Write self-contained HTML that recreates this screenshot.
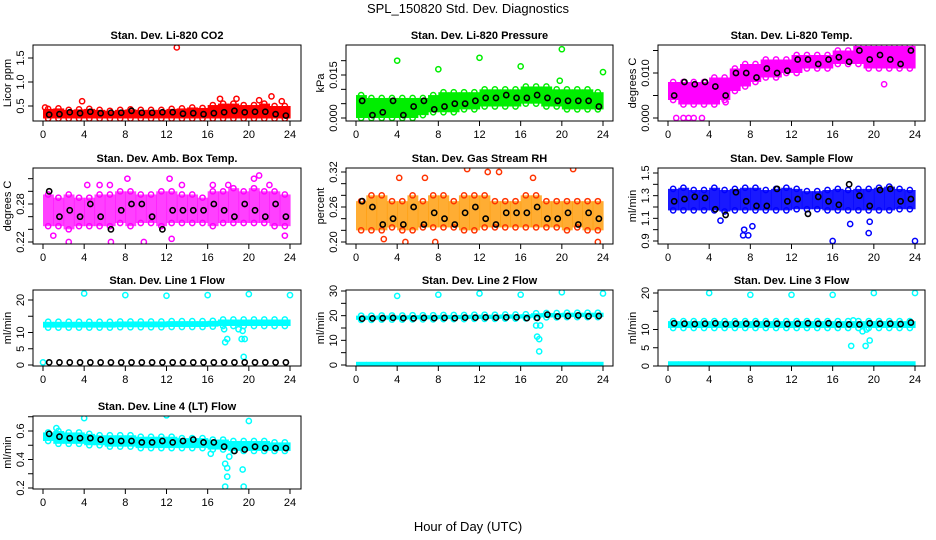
<!DOCTYPE html>
<html><head><meta charset="utf-8"><style>
body{margin:0;background:#fff}
svg{display:block;font-family:"Liberation Sans",sans-serif}
</style></head><body>
<svg id="c" width="936" height="540" viewBox="0 0 936 540">
<text x="468" y="13" text-anchor="middle" font-size="13">SPL_150820  Std. Dev. Diagnostics</text>
<text x="468" y="531" text-anchor="middle" font-size="13">Hour of Day (UTC)</text>
</svg>
<script>
// ---- data (hourly slot bands, black hourly values, outliers) ----
const hours = [0,1,2,3,4,5,6,7,8,9,10,11,12,13,14,15,16,17,18,19,20,21,22,23];
const xTicks = [0,4,8,12,16,20,24];

const co2Lo = [0.24,0.24,0.24,0.24,0.24,0.24,0.24,0.24,0.24,0.24,0.24,0.24,0.24,0.24,0.24,0.24,0.24,0.24,0.24,0.24,0.24,0.24,0.24,0.24];
const co2Hi = [0.44,0.45,0.42,0.43,0.44,0.42,0.40,0.42,0.43,0.42,0.42,0.42,0.44,0.45,0.47,0.46,0.52,0.55,0.55,0.52,0.52,0.55,0.50,0.50];
const co2Blk = [0.32,0.33,0.37,0.35,0.38,0.35,0.36,0.36,0.40,0.36,0.36,0.37,0.37,0.34,0.35,0.33,0.35,0.37,0.40,0.37,0.38,0.38,0.33,0.30];
const co2Out = [[13,1.72],[3.8,0.6],[17.2,0.65],[18.8,0.65],[21,0.62],[22.2,0.7],[23.2,0.6],[0.2,0.47]];

const presLo = [0,0,0,0,0,0,0.001,0.002,0.002,0.002,0.003,0.003,0.004,0.004,0.004,0.004,0.005,0.005,0.004,0.004,0.003,0.003,0.003,0.003];
const presHi = [0.008,0.007,0.007,0.007,0.007,0.007,0.007,0.008,0.009,0.009,0.009,0.009,0.010,0.010,0.010,0.010,0.011,0.011,0.011,0.010,0.010,0.010,0.010,0.009];
const presBlk = [0.006,0.001,0.002,0.006,0.001,0.004,0.006,0.003,0.004,0.005,0.005,0.006,0.007,0.007,0.008,0.007,0.007,0.008,0.007,0.006,0.006,0.006,0.006,0.004];
const presOut = [[4,0.020],[8,0.017],[12,0.021],[16,0.018],[20,0.024],[24,0.016],[19.8,0.013]];

const tempLo = [0.004,0.003,0.003,0.003,0.003,0.004,0.006,0.007,0.008,0.009,0.009,0.010,0.010,0.011,0.011,0.011,0.012,0.012,0.012,0.011,0.011,0.011,0.011,0.011];
const tempHi = [0.008,0.008,0.008,0.008,0.009,0.009,0.011,0.012,0.012,0.013,0.013,0.013,0.014,0.014,0.014,0.014,0.015,0.015,0.016,0.016,0.016,0.016,0.016,0.016];
const tempBlk = [0.005,0.008,0.0075,0.008,0.007,0.005,0.010,0.010,0.009,0.011,0.010,0.0105,0.013,0.013,0.012,0.013,0.0135,0.0125,0.015,0.013,0.014,0.013,0.012,0.015];
const tempOut = [[0.8,0],[1.5,0],[2,0],[2.5,0],[3.3,0],[5.6,0.0035],[21,0.0075]];

const ambLo = [0.245,0.245,0.24,0.245,0.245,0.245,0.245,0.25,0.245,0.25,0.25,0.245,0.25,0.25,0.25,0.25,0.245,0.25,0.25,0.25,0.25,0.25,0.245,0.245];
const ambHi = [0.295,0.29,0.295,0.29,0.29,0.295,0.295,0.30,0.30,0.295,0.295,0.30,0.30,0.295,0.295,0.29,0.30,0.30,0.305,0.30,0.305,0.30,0.30,0.295];
const ambBlk = [0.30,0.26,0.27,0.26,0.28,0.26,0.24,0.27,0.28,0.28,0.26,0.24,0.27,0.27,0.27,0.27,0.28,0.27,0.26,0.28,0.27,0.26,0.28,0.26];
const ambOut = [[1,0.23],[2.5,0.22],[4.3,0.31],[5.5,0.31],[6.5,0.31],[8.2,0.32],[9.8,0.22],[6.6,0.22],[12.5,0.225],[12.3,0.32],[13.5,0.31],[16.5,0.31],[18,0.31],[21,0.325],[20.5,0.32],[23.5,0.23],[22,0.31]];

const rhLo = [0.22,0.22,0.22,0.225,0.22,0.22,0.225,0.225,0.225,0.225,0.22,0.22,0.225,0.225,0.225,0.225,0.225,0.225,0.225,0.225,0.22,0.225,0.22,0.22];
const rhHi = [0.27,0.28,0.28,0.27,0.27,0.28,0.27,0.28,0.28,0.27,0.28,0.28,0.28,0.27,0.27,0.27,0.28,0.28,0.27,0.27,0.27,0.27,0.27,0.27];
const rhBlk = [0.27,0.26,0.23,0.24,0.23,0.26,0.23,0.25,0.24,0.23,0.25,0.26,0.24,0.23,0.25,0.25,0.25,0.26,0.24,0.24,0.25,0.23,0.25,0.24];
const rhOut = [[10.2,0.335],[10.8,0.325],[4.2,0.31],[12.8,0.32],[13.9,0.32],[21.1,0.325],[17.2,0.31],[2.7,0.205],[4.8,0.20],[7.7,0.20],[23.5,0.2],[6.7,0.31]];

const sfLo = [1.17,1.17,1.17,1.17,1.17,1.16,1.17,1.17,1.17,1.17,1.17,1.17,1.18,1.18,1.18,1.17,1.17,1.17,1.17,1.17,1.17,1.17,1.18,1.18];
const sfHi = [1.36,1.37,1.35,1.35,1.37,1.35,1.36,1.37,1.37,1.35,1.36,1.37,1.36,1.34,1.34,1.35,1.36,1.35,1.36,1.36,1.37,1.38,1.36,1.35];
const sfBlk = [1.25,1.27,1.29,1.28,1.18,1.13,1.33,1.25,1.21,1.21,1.36,1.25,1.27,1.14,1.29,1.25,1.22,1.40,1.30,1.21,1.35,1.36,1.25,1.27];
const sfOut = [[7.3,0.95],[7.8,0.95],[8.2,1.03],[7.4,1.0],[9.7,1.57],[16,0.9],[24,0.9],[19.5,0.97],[19.6,1.07],[17.7,1.05],[5.1,1.08]];

const l1Lo = [11.5,11.5,11.5,11.5,11.5,11.5,11.5,11.6,11.6,11.6,11.6,11.6,11.7,11.7,11.7,11.7,11.8,12.0,12.0,12.0,12.0,12.0,12.0,12.0];
const l1Hi = [13.3,13.3,13.3,13.3,13.3,13.3,13.3,13.4,13.4,13.4,13.4,13.4,13.5,13.5,13.5,13.5,13.6,14.0,14.0,14.0,14.0,14.0,14.0,14.0];
const l1Blk = [0.8,0.8,0.8,0.8,0.8,0.8,0.8,0.8,0.8,0.8,0.8,0.8,0.8,0.8,0.8,0.8,0.8,0.8,0.8,0.8,0.8,0.8,0.8,0.8];
const l1Out = [[4,22],[8,21.5],[12,21.3],[16,21.5],[20,21.8],[24,21.5],[17.7,7],[17.9,8],[17.6,11],[19,11],[19.3,8],[19.6,8],[19.4,10.5],[19.5,2.5],[0,0.8]];

const l2Lo = [18.3,18.3,18.4,18.4,18.4,18.5,18.5,18.5,18.6,18.6,18.6,18.7,18.7,18.7,18.8,18.8,18.9,19.2,19.3,19.3,19.4,19.4,19.4,19.4];
const l2Hi = [20.0,20.0,20.1,20.1,20.1,20.2,20.2,20.2,20.3,20.3,20.3,20.4,20.4,20.4,20.5,20.5,20.6,21.0,21.1,21.1,21.2,21.2,21.2,21.2];
const l2Blk = [18.8,18.9,19.0,19.1,19.0,18.9,19.1,19.0,19.1,19.0,19.2,19.2,19.3,19.2,19.3,19.3,19.0,19.1,20.4,19.7,19.9,20.1,19.8,19.9];
const l2ZeroHi = [1.3,1.3,1.3,1.3,1.3,1.3,1.3,1.3,1.3,1.3,1.3,1.3,1.3,1.3,1.3,1.3,1.3,1.3,1.3,1.3,1.3,1.3,1.3,1.3];
const l2Out = [[4,28],[8,28.5],[12,29],[16,28.5],[20,29.5],[24,29],[17.5,16],[17.9,16],[17.6,11.5],[17.8,10.5],[17.8,5.5]];

const l3Lo = [10.4,10.4,10.4,10.4,10.4,10.4,10.4,10.4,10.4,10.4,10.4,10.4,10.4,10.4,10.4,10.4,10.4,10.4,10.4,10.4,10.4,10.4,10.4,10.4];
const l3Hi = [12.3,12.3,12.3,12.3,12.3,12.3,12.3,12.3,12.3,12.3,12.3,12.3,12.3,12.3,12.3,12.3,12.3,12.3,12.3,12.3,12.3,12.3,12.3,12.3];
const l3Blk = [11.7,11.6,11.5,11.6,11.7,11.5,11.6,11.6,11.6,11.6,11.6,11.5,11.6,11.7,11.6,11.7,11.4,11.4,11.4,11.7,11.6,11.6,11.5,11.9];
const l3ZeroHi = [1.3,1.3,1.3,1.3,1.3,1.3,1.3,1.3,1.3,1.3,1.3,1.3,1.3,1.3,1.3,1.3,1.3,1.3,1.3,1.3,1.3,1.3,1.3,1.3];
const l3Out = [[4,20],[8,19.5],[12,19.5],[16,19.5],[20,20],[24,20],[17.8,5.5],[19.2,5.5],[19.6,7],[18.9,9.5],[19.3,10],[18,12.5]];

const l4Lo = [0.53,0.51,0.51,0.51,0.50,0.50,0.49,0.49,0.49,0.48,0.48,0.48,0.48,0.48,0.48,0.48,0.47,0.47,0.46,0.46,0.46,0.46,0.46,0.46];
const l4Hi = [0.59,0.60,0.59,0.59,0.58,0.57,0.57,0.57,0.57,0.56,0.56,0.56,0.56,0.55,0.55,0.55,0.54,0.54,0.53,0.53,0.53,0.53,0.52,0.52];
const l4Blk = [0.58,0.56,0.55,0.55,0.55,0.54,0.53,0.53,0.53,0.52,0.52,0.53,0.52,0.53,0.54,0.52,0.52,0.49,0.46,0.47,0.49,0.48,0.48,0.48];
const l4Out = [[4,0.69],[12,0.71],[20,0.67],[17.7,0.37],[17.9,0.34],[17.9,0.28],[17.7,0.21],[19.5,0.21],[19.4,0.33],[18.1,0.42],[16.3,0.44],[1.3,0.62]];

// ---- layout ----
const NS='http://www.w3.org/2000/svg';
const svg=document.getElementById('c');
const rowTop=[45,168,290,416], rowBot=[121,244,366,489];
const colL=[33,346,658], colR=[301,613,925], colX0=[43,356,668];
const PXH=247/24;

const panels=[
 {name:'co2',title:'Stan. Dev. Li-820 CO2',r:0,c:0,col:'#ff0000',op:1,ylab:'Licor ppm',v0:0.5,p0:106,v1:1.5,p1:58,ticks:[0.5,1.0,1.5],labs:[0.5,1.0,1.5],fmt:1,lo:co2Lo,hi:co2Hi,blk:co2Blk,out:co2Out},
 {name:'pressure',title:'Stan. Dev. Li-820 Pressure',r:0,c:1,col:'#00ee00',op:1,ylab:'kPa',v0:0,p0:118,v1:0.015,p1:75,ticks:[0,0.005,0.01,0.015,0.02],labs:[0,0.015],fmt:3,lo:presLo,hi:presHi,blk:presBlk,out:presOut},
 {name:'licor-temp',title:'Stan. Dev. Li-820 Temp.',r:0,c:2,col:'#ff00ff',op:1,ylab:'degrees C',v0:0,p0:118,v1:0.01,p1:73,ticks:[0,0.005,0.01,0.015],labs:[0,0.01],fmt:3,lo:tempLo,hi:tempHi,blk:tempBlk,out:tempOut},
 {name:'amb-box-temp',title:'Stan. Dev. Amb. Box Temp.',r:1,c:0,col:'#ff00ff',op:0.75,ylab:'degrees C',v0:0.22,p0:242,v1:0.28,p1:204,ticks:[0.22,0.24,0.26,0.28,0.30,0.32],labs:[0.22,0.28],fmt:2,lo:ambLo,hi:ambHi,blk:ambBlk,out:ambOut},
 {name:'gas-rh',title:'Stan. Dev. Gas Stream RH',r:1,c:1,col:'#ff9900',stroke:'#ff3300',op:0.8,ylab:'percent',v0:0.20,p0:242,v1:0.32,p1:172,ticks:[0.20,0.22,0.24,0.26,0.28,0.30,0.32],labs:[0.20,0.26,0.32],fmt:2,lo:rhLo,hi:rhHi,blk:rhBlk,out:rhOut},
 {name:'sample-flow',title:'Stan. Dev. Sample Flow',r:1,c:2,col:'#0000ff',op:0.9,ylab:'ml/min',v0:0.9,p0:241,v1:1.5,p1:173,ticks:[0.9,1.0,1.1,1.2,1.3,1.4,1.5],labs:[0.9,1.1,1.3,1.5],fmt:1,lo:sfLo,hi:sfHi,blk:sfBlk,out:sfOut},
 {name:'line1-flow',title:'Stan. Dev. Line 1 Flow',r:2,c:0,col:'#00ffff',op:1,ylab:'ml/min',v0:0,p0:365,v1:20,p1:300,ticks:[0,5,10,15,20],labs:[0,5,10,20],fmt:0,lo:l1Lo,hi:l1Hi,blk:l1Blk,out:l1Out},
 {name:'line2-flow',title:'Stan. Dev. Line 2 Flow',r:2,c:1,col:'#00ffff',op:1,ylab:'ml/min',v0:0,p0:365,v1:30,p1:291,ticks:[0,5,10,15,20,25,30],labs:[0,10,20,30],fmt:0,lo:l2Lo,hi:l2Hi,blk:l2Blk,out:l2Out,zero:l2ZeroHi},
 {name:'line3-flow',title:'Stan. Dev. Line 3 Flow',r:2,c:2,col:'#00ffff',op:1,ylab:'ml/min',v0:0,p0:366,v1:20,p1:293,ticks:[0,5,10,15,20],labs:[0,5,10,20],fmt:0,lo:l3Lo,hi:l3Hi,blk:l3Blk,out:l3Out,zero:l3ZeroHi},
 {name:'line4-flow',title:'Stan. Dev. Line 4 (LT) Flow',r:3,c:0,col:'#00ffff',op:1,ylab:'ml/min',v0:0.2,p0:488,v1:0.6,p1:431,ticks:[0.2,0.3,0.4,0.5,0.6,0.7],labs:[0.2,0.4,0.6],fmt:1,lo:l4Lo,hi:l4Hi,blk:l4Blk,out:l4Out}
];

function mk(tag,attrs,parent){const e=document.createElementNS(NS,tag);for(const k in attrs)e.setAttribute(k,attrs[k]);(parent||svg).appendChild(e);return e;}

panels.forEach(p=>{
  const top=rowTop[p.r],bot=rowBot[p.r],L=colL[p.c],R=colR[p.c],x0=colX0[p.c];
  const xs=h=>x0+h*PXH;
  const ys=v=>p.p0+(v-p.v0)*(p.p1-p.p0)/(p.v1-p.v0);
  const sc=p.stroke||p.col;
  const g=mk('g',{});
  
  
  const cid='clip-'+p.name;
  const cp=mk('clipPath',{id:cid},g);mk('rect',{x:L,y:top,width:R-L,height:bot-top},cp);
  const pg=mk('g',{'clip-path':'url(#'+cid+')'},g);
  hours.forEach((h,i)=>{
    const r=mk('rect',{x:xs(h),y:ys(p.hi[i]),width:PXH+0.6,height:Math.max(1,ys(p.lo[i])-ys(p.hi[i])),fill:p.col,'fill-opacity':p.op},pg);
    
    
    [p.lo[i],p.hi[i]].forEach(v=>{
      const c=mk('circle',{cx:xs(h+0.5),cy:ys(v),r:2.6,fill:'none',stroke:sc,'stroke-width':1.5},pg);
      
      
    });
    if(p.zero){
      const z=mk('rect',{x:xs(h),y:ys(p.zero[i]),width:PXH+0.6,height:ys(0)-ys(p.zero[i])+1,fill:p.col},pg);
      
      
    }
  });
  p.out.forEach(o=>{
    const c=mk('circle',{cx:xs(o[0]),cy:ys(o[1]),r:2.6,fill:'none',stroke:sc,'stroke-width':1.5},pg);
    
    
  });
  hours.forEach((h,i)=>{
    const c=mk('circle',{cx:xs(h+0.6),cy:ys(p.blk[i]),r:2.6,fill:'none',stroke:'#000','stroke-width':1.6},pg);
    
    
  });
  mk('rect',{x:L,y:top,width:R-L,height:bot-top,fill:'none',stroke:'#000','stroke-width':1},g);
  xTicks.forEach(t=>{
    mk('line',{x1:xs(t),x2:xs(t),y1:bot,y2:bot+5,stroke:'#000'},g);
    const tx=mk('text',{x:xs(t),y:bot+17,'text-anchor':'middle','font-size':11},g);
    tx.textContent=t;
    
    
  });
  p.ticks.forEach(t=>{mk('line',{x1:L-5,x2:L,y1:ys(t),y2:ys(t),stroke:'#000'},g);});
  p.labs.forEach(t=>{
    const y=ys(t);
    const tx=mk('text',{x:L-9,y:y,'text-anchor':'middle','font-size':11,transform:'rotate(-90 '+(L-9)+' '+y+')'},g);
    tx.textContent=t.toFixed(p.fmt);
    
    
  });
  const my=(top+bot)/2;
  const yl=mk('text',{x:L-22,y:my,'text-anchor':'middle','font-size':11,transform:'rotate(-90 '+(L-22)+' '+my+')'},g);
  yl.textContent=p.ylab;
  
  
  const tt=mk('text',{x:(L+R)/2,y:top-6,'text-anchor':'middle','font-size':11,'font-weight':'bold'},g);
  tt.textContent=p.title;
  
  
});
</script>
</body></html>
